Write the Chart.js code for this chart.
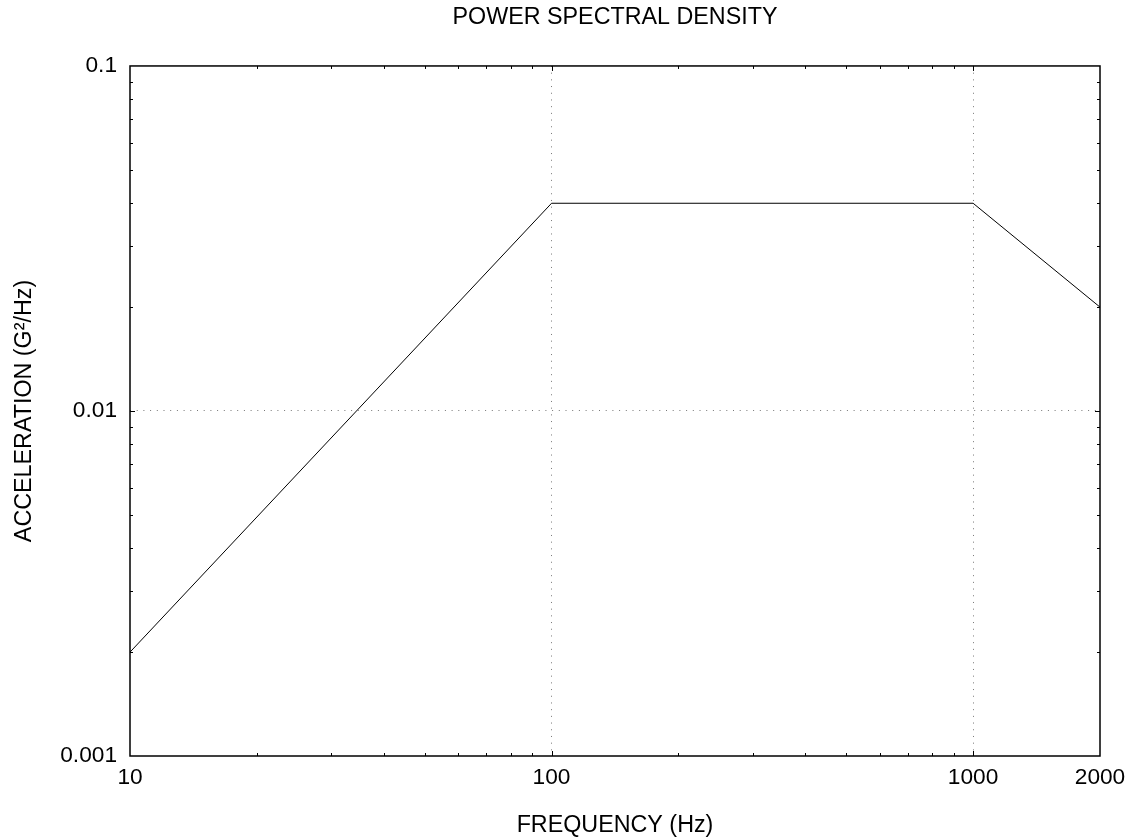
<!DOCTYPE html>
<html>
<head>
<meta charset="utf-8">
<script src="https://cdn.jsdelivr.net/npm/chart.js@4"></script>
<style>
    body { margin: 0; background: #fff; }
    #grafico { display: block; }
</style>
</head>
<body>
<canvas id="grafico" width="1127" height="838"></canvas>
<script>
// dados
const frequencias = [10, 100, 1000, 2000];
const aceleracoes = [0.002, 0.04, 0.04, 0.02];
const ticksX = [10, 100, 1000, 2000];
const ticksY = [0.001, 0.01, 0.1];

const FONTE = "'Liberation Sans', Arial, sans-serif";

// linhas pontilhadas só nas décadas internas
function ehDecadaInterna(v, min, max) {
    const l = Math.log10(v);
    return Math.abs(l - Math.round(l)) < 1e-9 && v > min * 1.0001 && v < max * 0.9999;
}

// moldura e marcas menores para dentro
const molduraPlugin = {
    id: 'moldura',
    afterDatasetsDraw(chart) {
        const { ctx, chartArea: a, scales: { x, y } } = chart;
        ctx.save();
        ctx.strokeStyle = '#000';
        ctx.lineWidth = 1;
        ctx.beginPath();
        for (let d = 1; d < 10000; d *= 10) {
            for (let m = 1; m < 10; m++) {
                const v = d * m;
                if (v <= x.min || v >= x.max) continue;
                const px = Math.round(x.getPixelForValue(v)) + 0.5;
                const len = m === 1 ? 5 : 3;
                ctx.moveTo(px, a.bottom); ctx.lineTo(px, a.bottom - len);
                ctx.moveTo(px, a.top); ctx.lineTo(px, a.top + len);
            }
        }
        for (let d = 0.0001; d < 1; d *= 10) {
            for (let m = 1; m < 10; m++) {
                const v = d * m;
                if (v <= y.min * 1.0001 || v >= y.max * 0.9999) continue;
                const py = Math.round(y.getPixelForValue(v)) + 0.5;
                const len = m === 1 ? 5 : 3;
                ctx.moveTo(a.left, py); ctx.lineTo(a.left + len, py);
                ctx.moveTo(a.right, py); ctx.lineTo(a.right - len, py);
            }
        }
        ctx.stroke();
        ctx.lineWidth = 1.5;
        ctx.strokeRect(a.left, a.top, a.right - a.left, a.bottom - a.top);
        ctx.restore();
    }
};

new Chart(document.getElementById('grafico'), {
    type: 'scatter',
    data: {
        datasets: [{
            data: frequencias.map((f, i) => ({ x: f, y: aceleracoes[i] })),
            showLine: true,
            borderColor: '#000',
            borderWidth: 1,
            pointRadius: 0,
            fill: false
        }]
    },
    options: {
        responsive: false,
        animation: false,
        devicePixelRatio: 1,
        layout: { padding: { left: 0, right: 27, top: 0, bottom: 0 } },
        plugins: {
            legend: { display: false },
            tooltip: { enabled: false },
            title: {
                display: true,
                fullSize: false,
                text: 'POWER SPECTRAL DENSITY',
                color: '#000',
                font: { family: FONTE, size: 23.3, weight: 'normal' },
                padding: { top: 4, bottom: 34 }
            }
        },
        scales: {
            x: {
                type: 'logarithmic',
                min: 10,
                max: 2000,
                afterBuildTicks: (scale) => { scale.ticks = ticksX.map(v => ({ value: v })); },
                afterFit: (scale) => {
                    scale.height = 82;
                    scale.paddingLeft = 0;
                    scale.paddingRight = 0;
                },
                ticks: {
                    color: '#000',
                    font: { family: FONTE, size: 22.7 },
                    padding: 8,
                    autoSkip: false,
                    maxRotation: 0,
                    callback: (v) => String(v)
                },
                grid: {
                    drawTicks: false,
                    lineWidth: 1,
                    color: (ctx) => ctx.tick && ehDecadaInterna(ctx.tick.value, 10, 2000) ? '#777' : 'rgba(0,0,0,0)'
                },
                border: { display: false, dash: [1, 5.7] },
                title: {
                    display: true,
                    text: 'FREQUENCY (Hz)',
                    color: '#000',
                    font: { family: FONTE, size: 23.3 },
                    padding: { top: 0, bottom: -2 }
                }
            },
            y: {
                type: 'logarithmic',
                min: 0.001,
                max: 0.1,
                afterBuildTicks: (scale) => { scale.ticks = ticksY.map(v => ({ value: v })); },
                afterFit: (scale) => { scale.width = 130; },
                ticks: {
                    color: '#000',
                    font: { family: FONTE, size: 22.7 },
                    padding: 13,
                    autoSkip: false,
                    callback: (v) => String(v)
                },
                grid: {
                    drawTicks: false,
                    lineWidth: 1,
                    color: (ctx) => ctx.tick && ehDecadaInterna(ctx.tick.value, 0.001, 0.1) ? '#777' : 'rgba(0,0,0,0)'
                },
                border: { display: false, dash: [1, 5.7] },
                title: {
                    display: true,
                    text: 'ACCELERATION (G²/Hz)',
                    color: '#000',
                    font: { family: FONTE, size: 23.3 },
                    padding: { top: 11, bottom: 0 }
                }
            }
        }
    },
    plugins: [molduraPlugin]
});
</script>
</body>
</html>
